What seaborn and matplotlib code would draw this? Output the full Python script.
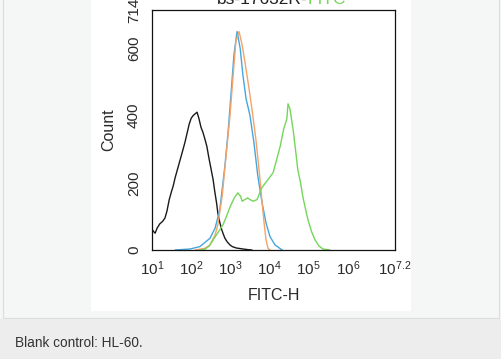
import matplotlib
matplotlib.use("Agg")
import matplotlib.pyplot as plt
import matplotlib.ticker as mticker
from matplotlib.patches import Rectangle
import seaborn as sns
import pandas as pd
import numpy as np

# histogram curves, x given as log10(FITC-H), y as event count
black_lg = [1.00, 1.04, 1.08, 1.13, 1.20, 1.27, 1.33, 1.38, 1.44, 1.50, 1.54, 1.59, 1.65,
            1.71, 1.77, 1.84, 1.90, 1.95, 2.00, 2.05, 2.10, 2.15, 2.20, 2.25, 2.30, 2.35,
            2.40, 2.45, 2.50, 2.56, 2.60, 2.65, 2.68, 2.73, 2.78, 2.81, 2.86, 2.92, 2.99,
            3.05, 3.15, 3.32, 3.45, 3.55]
black_cnt = [62, 55, 50, 65, 78, 85, 95, 115, 150, 175, 190, 215, 240,
             265, 290, 320, 350, 375, 392, 400, 405, 410, 390, 365, 350, 330,
             308, 275, 245, 209, 175, 138, 110, 82, 60, 50, 35, 24, 15,
             10, 6, 3, 1, 0]

blue_lg = [1.59, 1.97, 2.22, 2.48, 2.61, 2.73, 2.86, 2.94, 3.02, 3.09, 3.17, 3.25, 3.32,
           3.40, 3.50, 3.60, 3.70, 3.81, 3.91, 4.01, 4.14, 4.32]
blue_cnt = [0, 3, 10, 35, 65, 120, 250, 350, 470, 580, 650, 600, 520,
            450, 400, 320, 220, 140, 80, 40, 15, 0]

orange_lg = [2.10, 2.35, 2.48, 2.61, 2.68, 2.79, 2.89, 2.99, 3.07, 3.14, 3.22, 3.30, 3.37,
             3.45, 3.55, 3.65, 3.73, 3.81, 3.86, 3.91, 3.96, 4.01]
orange_cnt = [0, 5, 15, 45, 75, 160, 280, 400, 520, 620, 650, 610, 560,
              500, 420, 330, 240, 140, 80, 30, 5, 0]

green_lg = [2.22, 2.35, 2.46, 2.56, 2.70, 2.81, 2.90, 2.99, 3.10, 3.19, 3.26, 3.30, 3.37,
            3.44, 3.50, 3.58, 3.68, 3.80, 3.93, 4.09, 4.27, 4.36, 4.44, 4.47, 4.52,
            4.60, 4.66, 4.72, 4.79, 4.85, 4.92, 4.98, 5.07, 5.16, 5.26, 5.36, 5.54]
green_cnt = [0, 2, 12, 30, 55, 75, 100, 128, 155, 170, 160, 145, 150,
             155, 150, 145, 150, 185, 205, 230, 308, 360, 390, 435, 420,
             358, 300, 239, 200, 158, 120, 90, 55, 30, 12, 3, 0]

curves = [("blank", black_lg, black_cnt, "#1a1a1a"),
          ("blue", blue_lg, blue_cnt, "#45a6dc"),
          ("orange", orange_lg, orange_cnt, "#f4a36a"),
          ("green", green_lg, green_cnt, "#74d65a")]

xtick_exp = [1, 2, 3, 4, 5, 6, 7.2]
xtick_labels = ["1", "2", "3", "4", "5", "6", "7.2"]
ytick_vals = [0, 200, 400, 600, 714]
caption = "Blank control: HL-60."

sns.set_style("white")
plt.rcParams["font.family"] = ["Liberation Sans", "DejaVu Sans"]
plt.rcParams["mathtext.fontset"] = "custom"
plt.rcParams["mathtext.rm"] = "Liberation Sans"

W, H = 501, 359
fig = plt.figure(figsize=(W / 100, H / 100), dpi=100)
fig.patch.set_facecolor("#f5f6f6")

def px_rect(x0, y0, x1, y1, **kw):
    fig.patches.append(Rectangle((x0 / W, 1 - y1 / H), (x1 - x0) / W, (y1 - y0) / H,
                                 transform=fig.transFigure, zorder=-5, **kw))

# page frame, white image panel, caption band
px_rect(3, -2, 499, 318, facecolor="#f5f6f6", edgecolor="#dcdcdc", lw=0.8)
px_rect(91, 0, 411, 311, facecolor="white", edgecolor="none")
px_rect(0, 318.5, 501, 360, facecolor="#ededed", edgecolor="none")
fig.text(15 / W, 1 - 343 / H, caption, fontsize=9.8, color="#333333", va="center")

ax = fig.add_axes([152 / W, 1 - 250 / H, (395 - 152) / W, (250 - 10) / H])
ax.set_facecolor("white")
ax.set_zorder(2)

for name, lg, cnt, col in curves:
    df = pd.DataFrame({"FITC-H": 10 ** np.array(lg), "Count": cnt})
    sns.lineplot(data=df, x="FITC-H", y="Count", color=col, lw=1.0, ax=ax,
                 sort=False, estimator=None)

ax.set_xscale("log")
ax.set_xlim(10, 10 ** 7.2)
ax.set_ylim(0, 714)
ax.set_xticks([10 ** e for e in xtick_exp])
ax.set_xticklabels([r"$\mathregular{10^{%s}}$" % s for s in xtick_labels])
ax.xaxis.set_minor_locator(mticker.LogLocator(base=10, subs=np.arange(2, 10)))
ax.xaxis.set_minor_formatter(mticker.NullFormatter())
ax.set_yticks(ytick_vals)
ax.set_yticklabels([str(v) for v in ytick_vals], rotation=90, va="center")
ax.yaxis.set_minor_locator(mticker.MultipleLocator(50))

ax.tick_params(which="major", direction="out", length=5, width=0.8, colors="#111111",
               labelsize=11, labelcolor="#2a2a2a")
ax.tick_params(which="minor", direction="out", length=2.5, width=0.6, colors="#111111")
ax.tick_params(axis="x", pad=2)
ax.tick_params(axis="y", pad=3)
for s in ax.spines.values():
    s.set_color("#111111")
    s.set_linewidth(0.9)

ax.set_xlabel("FITC-H", fontsize=11.5, color="#2a2a2a", labelpad=7)
ax.set_ylabel("Count", fontsize=11.5, color="#2a2a2a", labelpad=8)

# title, mostly cut off by the top edge as in the source image
fig.text(308 / W, 1 - 4 / H, "bs-17632R-", fontsize=12.5, color="#222222", ha="right", va="baseline")
fig.text(308 / W, 1 - 4 / H, "FITC", fontsize=12.5, color="#74d65a", ha="left", va="baseline")

fig.savefig("out.png", dpi=100, facecolor=fig.get_facecolor())
